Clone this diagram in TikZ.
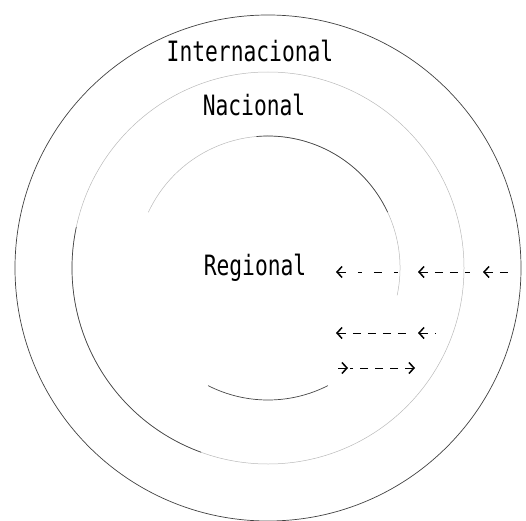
\documentclass[tikz,border=0pt]{standalone}
\usepackage{fontspec}
\usetikzlibrary{arrows.meta}
\newfontfamily\lvlfont{DejaVu Sans Mono}
\definecolor{cdark}{RGB}{70,70,70}
\definecolor{cfaint}{RGB}{185,185,185}
\tikzset{
  ring/.style={cfaint, line width=0.5pt},
  ringdark/.style={cdark, line width=0.7pt},
  lvl/.style={font=\lvlfont\fontsize{28}{30}\selectfont, xscale=0.76, anchor=base, inner sep=0pt},
  flow/.style={dash pattern=on 8pt off 7pt, line width=0.8pt,
    {Straight Barb[length=5pt,width=11pt,line width=1.5pt]}-}
}

\begin{document}
\begin{tikzpicture}[x=1pt,y=1pt]
        \useasboundingbox (0,0) rectangle (526,520);
        \coordinate (c) at (268,252);
        % rings
        \draw[ringdark, black!75] (c) circle[radius=253];
        \draw[ring] (c) circle[radius=196];
        \draw[ringdark] (c) ++(168:196) arc[start angle=168, end angle=250, radius=196];
        \draw[ring] (c) ++(-12:132) arc[start angle=-12, end angle=155, radius=132];
        \draw[ringdark] (c) ++(25:132) arc[start angle=25, end angle=95, radius=132];
        \draw[ringdark] (c) ++(243:132) arc[start angle=243, end angle=297, radius=132];
        % levels
        \node[lvl] (inter) at (250,458) {Internacional};
        \node[lvl] (nac) at (254,404) {Nacional};
        \node[lvl] (reg) at (255,245) {Regional};
        % flows (drawn from tip to tail)
        \coordinate (i1) at (512,248);
        \coordinate (i2) at (483,248);
        \coordinate (i3) at (470,248);
        \coordinate (i4) at (418,248);
        \coordinate (i5) at (405,248);
        \coordinate (i6) at (336,248);
        \coordinate (n1) at (435,187);
        \coordinate (n2) at (418,187);
        \coordinate (n3) at (410,187);
        \coordinate (n4) at (336,187);
        \coordinate (o1) at (333,152);
        \coordinate (o2) at (348,152);
        \coordinate (o3) at (350,152);
        \coordinate (o4) at (415,152);
        \draw[flow] (i2) -- (i1);
        \draw[flow] (i4) -- (i3);
        \draw[flow, dash pattern=on 8pt off 12pt on 4pt off 12pt] (i6) -- (i5);
        \draw[flow] (n2) -- (n1);
        \draw[flow] (n4) -- (n3);
        \draw[flow] (o2) -- (o1);
        \draw[flow] (o4) -- (o3);
\end{tikzpicture}
\end{document}
